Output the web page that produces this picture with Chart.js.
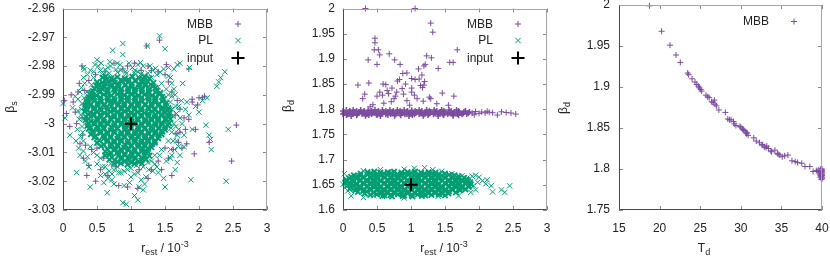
<!DOCTYPE html>
<html>
<head>
<meta charset="utf-8">
<script src="https://cdn.jsdelivr.net/npm/chart.js@4/dist/chart.umd.min.js"></script>
<style>
  html, body { margin: 0; padding: 0; background: #fff; }
  #wrap { position: relative; width: 830px; height: 261px; }
  canvas { position: absolute; top: 0; }
</style>
</head>
<body>
<div id="wrap">
  <canvas id="c1" width="277" height="261" style="left:0px"></canvas>
  <canvas id="c2" width="277" height="261" style="left:280px"></canvas>
  <canvas id="c3" width="274" height="261" style="left:556px"></canvas>
</div>
<script>
// ---- data ----
// panel 1: r_est (1e-3) vs beta_s
const p1Mbb = [
  [2.55,-3.0005],[2.48,-3.013],[1.42,-2.971],[1.23,-2.973],[1.85,-2.981],[0.02,-2.992],[0.05,-2.9965],[0.10,-3.001],
  [1.93,-3.0105],[2.00,-2.991],[2.05,-2.991],[1.90,-2.9925],[1.98,-2.9935],[2.15,-3.0065],[1.52,-2.9795],[0.28,-2.980],
  [0.24,-2.986],[0.22,-2.989],[0.15,-2.9925],[0.18,-2.996],[0.20,-3.000],[0.25,-3.007],[0.30,-3.012],[0.38,-3.0145],
  [0.42,-3.009],[0.55,-3.016],[0.60,-3.012],[0.66,-3.018],[0.82,-3.0215],[0.95,-3.022],[1.10,-3.0225],[1.12,-3.016],
  [0.78,-3.015],[1.30,-3.016],[1.40,-3.013],[1.45,-3.016],[1.50,-3.0085],[1.55,-3.012],[1.62,-3.009],[1.66,-3.0035],
  [1.70,-3.0065],[1.75,-3.0085],[1.72,-3.003],[1.80,-3.002],[1.85,-2.9985],[1.72,-2.995],[1.68,-2.992],[1.60,-2.989],
  [1.55,-2.9855],[1.50,-2.983],[1.40,-2.982],[1.30,-2.9815],[1.25,-2.980],[1.15,-2.9815],[1.05,-2.979],[0.95,-2.980],
  [0.88,-2.981],[0.75,-2.979],[0.62,-2.982],[0.48,-2.983],[0.38,-2.985],[0.32,-2.9885],[0.30,-2.9935],[0.28,-2.998],
  [0.29,-3.004],[0.33,-3.0075],[0.50,-3.0085],[0.70,-3.0105],[1.35,-3.007],[1.45,-3.003],[1.50,-2.997],[1.48,-2.991],
  [1.40,-2.988],[0.45,-2.990],[0.40,-2.9965],[0.42,-3.003],[0.90,-2.985],[1.00,-3.013],[1.20,-3.010],[0.60,-2.988],
  [1.65,-2.997],[1.78,-2.998],[1.90,-2.9915],[2.08,-2.9905],[1.95,-3.002],[1.82,-3.007],[0.12,-2.990],[0.35,-3.018],
  [0.48,-3.020],[1.60,-3.018],[1.25,-3.019],[0.70,-2.985],[1.15,-2.986],[0.80,-3.008]
];
const p1PlCore = [
  [0.71,-2.9842],[0.80,-2.9838],[0.91,-2.9843],[1.02,-2.9837],[1.12,-2.9841],
  [0.58,-2.9857],[0.67,-2.9852],[0.76,-2.9858],[0.87,-2.9853],[0.96,-2.9856],[1.06,-2.9851],[1.16,-2.9857],[1.25,-2.9854],
  [0.49,-2.9868],[0.61,-2.9873],[0.70,-2.9869],[0.82,-2.9872],[0.91,-2.9867],[1.01,-2.9871],[1.12,-2.9874],[1.21,-2.9868],[1.32,-2.9871],
  [0.44,-2.9887],[0.53,-2.9883],[0.66,-2.9886],[0.75,-2.9882],[0.85,-2.9888],[0.96,-2.9884],[1.05,-2.9886],[1.16,-2.9883],[1.26,-2.9887],[1.38,-2.9884],
  [0.40,-2.9898],[0.49,-2.9902],[0.60,-2.9899],[0.71,-2.9903],[0.80,-2.9897],[0.90,-2.9901],[1.01,-2.9898],[1.11,-2.9902],[1.20,-2.9899],[1.31,-2.9903],[1.42,-2.9898],
  [0.37,-2.9916],[0.45,-2.9912],[0.55,-2.9917],[0.66,-2.9913],[0.76,-2.9918],[0.85,-2.9914],[0.96,-2.9916],[1.06,-2.9912],[1.15,-2.9917],[1.26,-2.9913],[1.36,-2.9916],[1.48,-2.9914],
  [0.35,-2.9928],[0.41,-2.9933],[0.51,-2.9929],[0.61,-2.9932],[0.70,-2.9927],[0.81,-2.9931],[0.90,-2.9929],[1.00,-2.9933],[1.11,-2.9928],[1.21,-2.9932],[1.30,-2.9929],[1.41,-2.9931],[1.52,-2.9928],
  [0.33,-2.9947],[0.46,-2.9943],[0.55,-2.9946],[0.65,-2.9942],[0.76,-2.9948],[0.86,-2.9944],[0.95,-2.9947],[1.05,-2.9943],[1.16,-2.9946],[1.25,-2.9944],[1.35,-2.9947],[1.46,-2.9943],[1.55,-2.9946],
  [0.32,-2.9958],[0.40,-2.9962],[0.50,-2.9959],[0.61,-2.9963],[0.70,-2.9957],[0.80,-2.9961],[0.91,-2.9958],[1.00,-2.9962],[1.10,-2.9959],[1.20,-2.9963],[1.31,-2.9958],[1.40,-2.9961],[1.50,-2.9959],[1.57,-2.9962],
  [0.34,-2.9977],[0.45,-2.9973],[0.56,-2.9976],[0.65,-2.9972],[0.75,-2.9978],[0.85,-2.9974],[0.96,-2.9977],[1.05,-2.9973],[1.15,-2.9976],[1.26,-2.9974],[1.35,-2.9977],[1.45,-2.9973],[1.56,-2.9976],
  [0.33,-2.9988],[0.41,-2.9992],[0.51,-2.9989],[0.60,-2.9993],[0.71,-2.9987],[0.81,-2.9991],[0.90,-2.9988],[1.01,-2.9992],[1.10,-2.9989],[1.21,-2.9993],[1.30,-2.9988],[1.40,-2.9991],[1.51,-2.9989],
  [0.36,-3.0007],[0.46,-3.0003],[0.55,-3.0006],[0.66,-3.0002],[0.75,-3.0008],[0.86,-3.0004],[0.96,-3.0007],[1.05,-3.0003],[1.16,-3.0006],[1.25,-3.0004],[1.36,-3.0007],[1.46,-3.0003],[1.54,-3.0006],
  [0.38,-3.0018],[0.50,-3.0022],[0.60,-3.0019],[0.70,-3.0023],[0.80,-3.0017],[0.91,-3.0021],[1.00,-3.0018],[1.11,-3.0022],[1.20,-3.0019],[1.31,-3.0023],[1.41,-3.0018],[1.50,-3.0021],
  [0.41,-3.0037],[0.55,-3.0033],[0.65,-3.0036],[0.76,-3.0032],[0.85,-3.0038],[0.95,-3.0034],[1.06,-3.0037],[1.15,-3.0033],[1.26,-3.0036],[1.35,-3.0034],[1.45,-3.0037],
  [0.46,-3.0048],[0.60,-3.0052],[0.70,-3.0049],[0.80,-3.0053],[0.91,-3.0047],[1.00,-3.0051],[1.11,-3.0048],[1.20,-3.0052],[1.31,-3.0049],[1.40,-3.0051],
  [0.50,-3.0067],[0.65,-3.0063],[0.75,-3.0066],[0.86,-3.0062],[0.95,-3.0068],[1.06,-3.0064],[1.15,-3.0067],[1.25,-3.0063],[1.35,-3.0066],
  [0.56,-3.0078],[0.70,-3.0082],[0.81,-3.0079],[0.90,-3.0083],[1.01,-3.0077],[1.10,-3.0081],[1.21,-3.0078],[1.30,-3.0082],
  [0.62,-3.0097],[0.75,-3.0093],[0.86,-3.0096],[0.96,-3.0092],[1.05,-3.0098],[1.16,-3.0094],[1.25,-3.0097],
  [0.68,-3.0108],[0.81,-3.0112],[0.91,-3.0109],[1.01,-3.0113],[1.11,-3.0107],[1.20,-3.0111],
  [0.76,-3.0127],[0.86,-3.0123],[0.97,-3.0126],[1.06,-3.0122],[1.15,-3.0128],
  [0.85,-3.0138],[0.95,-3.0142],[1.05,-3.0139]
];
const p1PlFill = [
  [0.64,-2.9848],[0.75,-2.9846],[0.85,-2.9849],[0.96,-2.9847],[1.07,-2.9850],[1.18,-2.9846],
  [0.53,-2.9863],[0.63,-2.9861],[0.72,-2.9864],[0.81,-2.9862],[0.92,-2.9865],[1.01,-2.9861],[1.11,-2.9863],[1.21,-2.9862],[1.29,-2.9864],
  [0.46,-2.9878],[0.56,-2.9876],[0.65,-2.9879],[0.76,-2.9877],[0.86,-2.9880],[0.96,-2.9876],[1.06,-2.9878],[1.16,-2.9877],[1.27,-2.9879],[1.36,-2.9876],
  [0.42,-2.9893],[0.54,-2.9891],[0.65,-2.9894],[0.76,-2.9892],[0.85,-2.9895],[0.95,-2.9891],[1.06,-2.9893],[1.16,-2.9892],[1.26,-2.9894],[1.36,-2.9891],[1.43,-2.9893],
  [0.38,-2.9908],[0.44,-2.9906],[0.55,-2.9909],[0.65,-2.9907],[0.75,-2.9910],[0.86,-2.9906],[0.95,-2.9908],[1.06,-2.9907],[1.16,-2.9909],[1.25,-2.9906],[1.36,-2.9908],[1.46,-2.9907],
  [0.35,-2.9923],[0.46,-2.9921],[0.56,-2.9924],[0.66,-2.9922],[0.75,-2.9925],[0.86,-2.9921],[0.95,-2.9923],[1.05,-2.9922],[1.16,-2.9924],[1.26,-2.9921],[1.35,-2.9923],[1.46,-2.9922],
  [0.34,-2.9938],[0.40,-2.9936],[0.51,-2.9939],[0.60,-2.9937],[0.71,-2.9940],[0.81,-2.9936],[0.90,-2.9938],[1.01,-2.9937],[1.10,-2.9939],[1.21,-2.9936],[1.31,-2.9938],[1.40,-2.9937],[1.51,-2.9939],
  [0.36,-2.9953],[0.45,-2.9951],[0.56,-2.9954],[0.65,-2.9952],[0.75,-2.9955],[0.86,-2.9951],[0.96,-2.9953],[1.05,-2.9952],[1.15,-2.9954],[1.26,-2.9951],[1.35,-2.9953],[1.45,-2.9952],[1.54,-2.9954],
  [0.37,-2.9968],[0.45,-2.9966],[0.55,-2.9969],[0.66,-2.9967],[0.75,-2.9970],[0.85,-2.9966],[0.96,-2.9968],[1.05,-2.9967],[1.15,-2.9969],[1.25,-2.9966],[1.36,-2.9968],[1.45,-2.9967],[1.55,-2.9969],
  [0.38,-2.9983],[0.50,-2.9981],[0.60,-2.9984],[0.70,-2.9982],[0.80,-2.9985],[0.91,-2.9981],[1.00,-2.9983],[1.10,-2.9982],[1.21,-2.9984],[1.30,-2.9981],[1.40,-2.9983],[1.51,-2.9982],[1.58,-2.9984],
  [0.37,-2.9998],[0.46,-2.9996],[0.56,-2.9999],[0.65,-2.9997],[0.76,-3.0000],[0.86,-2.9996],[0.95,-2.9998],[1.06,-2.9997],[1.15,-2.9999],[1.26,-2.9996],[1.35,-2.9998],[1.45,-2.9997],[1.56,-2.9999],
  [0.41,-3.0013],[0.51,-3.0011],[0.60,-3.0014],[0.71,-3.0012],[0.80,-3.0015],[0.91,-3.0011],[1.00,-3.0013],[1.10,-3.0012],[1.21,-3.0014],[1.30,-3.0011],[1.41,-3.0013],[1.50,-3.0012],
  [0.44,-3.0028],[0.55,-3.0026],[0.65,-3.0029],[0.75,-3.0027],[0.86,-3.0030],[0.95,-3.0026],[1.06,-3.0028],[1.15,-3.0027],[1.25,-3.0029],[1.36,-3.0026],[1.46,-3.0028],
  [0.48,-3.0043],[0.60,-3.0041],[0.70,-3.0044],[0.81,-3.0042],[0.90,-3.0045],[1.01,-3.0041],[1.10,-3.0043],[1.21,-3.0042],[1.30,-3.0044],[1.41,-3.0041],
  [0.53,-3.0058],[0.65,-3.0056],[0.75,-3.0059],[0.85,-3.0057],[0.96,-3.0060],[1.05,-3.0056],[1.16,-3.0058],[1.25,-3.0057],[1.35,-3.0059],
  [0.60,-3.0073],[0.71,-3.0071],[0.80,-3.0074],[0.91,-3.0072],[1.00,-3.0075],[1.11,-3.0071],[1.20,-3.0073],[1.30,-3.0072],
  [0.65,-3.0088],[0.76,-3.0086],[0.85,-3.0089],[0.96,-3.0087],[1.05,-3.0090],[1.16,-3.0086],[1.25,-3.0088],
  [0.70,-3.0103],[0.80,-3.0101],[0.91,-3.0104],[1.00,-3.0102],[1.11,-3.0105],[1.20,-3.0101],
  [0.72,-3.0118],[0.86,-3.0116],[0.95,-3.0119],[1.06,-3.0117],[1.16,-3.0120],
  [0.80,-3.0133],[0.91,-3.0131],[1.01,-3.0134],[1.11,-3.0132],
  [0.58,-2.9840],[0.63,-2.9836],[1.20,-2.9838],[1.27,-2.9843],[0.50,-2.9856],[1.33,-2.9858],[0.62,-3.0110],[1.27,-3.0112],
  [0.68,-3.0125],[1.22,-3.0124],[0.75,-3.0140],[1.16,-3.0138]
];
const p1PlEdge = [
  [0.30,-2.9805],[0.31,-2.9812],[0.50,-2.9778],[0.52,-2.9800],[0.62,-2.9812],[0.73,-2.9745],[0.80,-2.9790],[0.88,-2.9722],
  [0.88,-2.9760],[0.92,-2.9820],[1.02,-2.9805],[1.10,-2.9795],[1.18,-2.9800],[1.20,-2.9832],[1.24,-2.9730],[1.32,-2.9815],
  [1.42,-2.9695],[1.50,-2.9740],[1.48,-2.9810],[1.55,-2.9805],[1.63,-2.9810],[1.68,-2.9795],[1.72,-2.9790],[1.86,-2.9805],
  [0.00,-2.9930],[0.03,-2.9980],[0.10,-3.0040],[0.18,-2.9905],[0.22,-2.9955],[0.20,-3.0170],[0.23,-3.0085],[0.25,-3.0110],
  [0.28,-3.0010],[0.14,-2.9945],[0.27,-2.9875],[0.30,-2.9840],[0.38,-3.0150],[0.40,-3.0220],[0.36,-3.0115],[0.42,-2.9865],
  [0.45,-2.9840],[0.50,-3.0140],[0.55,-3.0180],[0.60,-3.0205],[0.65,-3.0240],[0.66,-3.0190],[0.72,-3.0175],[0.75,-3.0210],
  [0.82,-3.0170],[0.88,-3.0275],[0.93,-3.0280],[0.90,-3.0215],[0.98,-3.0205],[1.05,-3.0250],[1.10,-3.0265],[1.18,-3.0230],
  [1.20,-3.0210],[1.22,-3.0185],[1.26,-3.0160],[1.35,-3.0140],[1.40,-3.0170],[1.48,-3.0190],[1.50,-3.0220],[1.58,-3.0120],
  [1.65,-3.0160],[1.68,-3.0135],[1.72,-3.0110],[1.88,-3.0195],[1.60,-2.9860],[1.65,-2.9900],[1.70,-2.9940],[1.75,-3.0000],
  [1.78,-3.0040],[1.82,-2.9925],[1.85,-2.9970],[1.90,-3.0020],[1.95,-2.9940],[2.00,-2.9960],[2.05,-2.9920],[2.12,-2.9910],
  [2.15,-3.0040],[2.17,-3.0055],[2.18,-3.0090],[2.10,-3.0005],[1.62,-3.0060],[1.66,-3.0010],[1.70,-3.0080],[1.60,-2.9950],
  [1.63,-3.0000],[1.58,-3.0090],[2.26,-2.9870],[2.29,-2.9855],[2.32,-2.9840],[2.38,-2.9820],[2.43,-3.0020],[2.40,-3.0200],
  [0.45,-2.9820],[1.30,-2.9840],[1.45,-2.9860],[1.55,-2.9900],[1.60,-3.0030],[0.30,-3.0060],[0.28,-2.9930],[0.50,-3.0110],
  [1.35,-3.0110],[1.45,-3.0090],[1.10,-3.0170],[1.15,-3.0195],[0.85,-3.0170],[0.70,-3.0140],[0.58,-2.9830],[1.38,-2.9830],
  [1.52,-3.0130],[0.62,-3.0150],[0.35,-2.9890],[0.26,-2.9970],[1.58,-2.9925],[1.62,-2.9975],[1.66,-2.9940],[1.68,-3.0040],
  [1.72,-2.9980],[1.55,-3.0060],[1.52,-2.9880],[1.58,-2.9840],[0.27,-2.9950],[0.29,-3.0030],[0.31,-2.9910],[0.40,-3.0080],
  [0.45,-3.0100],[0.55,-3.0120],[1.30,-3.0130],[1.42,-3.0110],[0.95,-3.0160],[1.05,-3.0175],[0.75,-3.0160],[1.25,-2.9825],
  [0.55,-2.9815],[0.85,-2.9815],[1.10,-2.9820],[0.70,-2.9800],
  [0.40,-2.9815],[0.47,-2.9795],[0.56,-2.9790],[0.66,-2.9805],[0.69,-2.9785],[0.78,-2.9812],[0.84,-2.9795],[0.97,-2.9790],
  [1.06,-2.9815],[1.14,-2.9788],[1.28,-2.9800],[1.36,-2.9808],[1.43,-2.9822],[0.36,-2.9830],[0.68,-2.9825],[0.80,-2.9822],
  [0.93,-2.9826],[1.05,-2.9823],[1.15,-2.9827],
  [0.22,-2.9915],[0.24,-2.9985],[0.26,-3.0045],[0.21,-3.0020],[0.30,-3.0095],[0.33,-3.0130],[0.25,-2.9890],[0.32,-2.9860],
  [0.19,-3.0060],[1.60,-2.9905],[1.63,-2.9880],[1.67,-2.9965],[1.70,-3.0020],[1.74,-2.9920],[1.76,-2.9860],[1.64,-3.0090],
  [1.60,-3.0110],[1.67,-3.0060],[1.78,-3.0080],[1.80,-2.9950],[1.57,-2.9950],[1.59,-3.0015],[1.55,-2.9835],
  [0.58,-3.0150],[0.68,-3.0165],[0.80,-3.0150],[0.90,-3.0165],[1.00,-3.0155],[1.08,-3.0145],[1.18,-3.0150],[1.25,-3.0135],
  [1.32,-3.0165],[0.72,-3.0195],[1.00,-3.0185],[1.12,-3.0220],[0.62,-3.0175],[1.38,-3.0150]
];
const p1Input = [[1, -3]];

// panel 2: r_est (1e-3) vs beta_d
const p2MbbBand = [
  [0.00,1.7908],[0.07,1.7902],[0.14,1.7906],[0.21,1.7901],[0.28,1.7907],[0.35,1.7903],[0.42,1.7905],[0.49,1.7900],
  [0.56,1.7906],[0.63,1.7902],[0.70,1.7907],[0.77,1.7903],[0.84,1.7905],[0.91,1.7901],[0.98,1.7906],[1.05,1.7902],
  [1.12,1.7907],[1.19,1.7903],[1.26,1.7905],[1.33,1.7901],[1.40,1.7906],[1.47,1.7902],[1.54,1.7907],[1.61,1.7903],
  [1.68,1.7905],[1.75,1.7901],[1.82,1.7906],
  [0.03,1.7943],[0.10,1.7948],[0.17,1.7944],[0.24,1.7947],[0.31,1.7942],[0.38,1.7946],[0.45,1.7944],[0.52,1.7948],
  [0.59,1.7943],[0.66,1.7947],[0.73,1.7942],[0.80,1.7946],[0.87,1.7944],[0.94,1.7948],[1.01,1.7943],[1.08,1.7947],
  [1.15,1.7942],[1.22,1.7946],[1.29,1.7944],[1.36,1.7948],[1.43,1.7943],[1.50,1.7947],[1.57,1.7942],[1.64,1.7946],
  [1.71,1.7944],[1.78,1.7948],[1.86,1.7943],
  [0.05,1.7987],[0.15,1.7983],[0.26,1.7986],[0.37,1.7982],[0.47,1.7988],[0.58,1.7984],[0.69,1.7987],[0.80,1.7983],
  [0.90,1.7986],[1.01,1.7982],[1.12,1.7987],[1.23,1.7984],[1.34,1.7986],[1.45,1.7983],[1.56,1.7987],[1.67,1.7984],
  [0.12,1.7868],[0.33,1.7872],[0.55,1.7866],[0.76,1.7871],[0.97,1.7867],[1.18,1.7873],[1.40,1.7868],[1.62,1.7872],
  [0.02,1.7925],[0.09,1.7923],[0.16,1.7926],[0.23,1.7924],[0.30,1.7927],[0.37,1.7923],[0.44,1.7925],[0.51,1.7924],
  [0.58,1.7926],[0.65,1.7923],[0.72,1.7925],[0.79,1.7924],[0.86,1.7926],[0.93,1.7923],[1.00,1.7925],[1.07,1.7924],
  [1.14,1.7926],[1.21,1.7923],[1.28,1.7925],[1.35,1.7924],[1.42,1.7926],[1.49,1.7923],[1.56,1.7925],[1.63,1.7924],
  [1.70,1.7926],[1.77,1.7923],[1.84,1.7925],
  [0.00,1.7965],[0.10,1.7963],[0.20,1.7966],[0.31,1.7964],[0.42,1.7967],[0.52,1.7963],[0.63,1.7965],[0.74,1.7964],
  [0.84,1.7966],[0.95,1.7963],[1.06,1.7965],[1.16,1.7964],[1.27,1.7966],[1.38,1.7963],[1.48,1.7965],[1.59,1.7964],
  [1.70,1.7966],[1.80,1.7963],
  [0.05,1.7885],[0.20,1.7883],[0.38,1.7886],[0.50,1.7884],[0.66,1.7887],[0.85,1.7883],[1.02,1.7885],[1.25,1.7884],
  [1.48,1.7886],[1.70,1.7883]
];
const p2MbbSpread = [
  [1.90,1.7925],[1.95,1.7955],[2.00,1.7918],[2.04,1.7945],[2.09,1.7928],[2.15,1.7940],[2.20,1.7930],[2.27,1.7885],
  [2.33,1.7950],[2.40,1.7935],[2.47,1.7925],[2.54,1.7905],[1.93,1.7890],[2.12,1.7960],
  [0.33,2.000],[1.06,2.000],[1.29,1.971],[1.32,1.953],[0.47,1.941],[0.47,1.932],[0.46,1.918],[0.52,1.918],
  [0.37,1.898],[0.50,1.889],[0.54,1.908],[0.68,1.910],[0.76,1.898],[0.84,1.889],[0.22,1.848],[0.38,1.852],
  [0.32,1.830],[0.44,1.809],[0.50,1.826],[0.59,1.850],[0.63,1.849],[0.65,1.837],[0.67,1.831],[0.54,1.834],
  [0.71,1.815],[0.75,1.821],[0.77,1.826],[0.79,1.834],[0.80,1.856],[0.83,1.859],[0.88,1.871],[0.94,1.872],
  [0.92,1.850],[0.87,1.841],[0.89,1.830],[0.94,1.817],[1.01,1.834],[0.98,1.808],[1.01,1.842],[1.06,1.859],
  [1.01,1.861],[1.11,1.880],[1.16,1.868],[1.14,1.847],[1.19,1.848],[1.20,1.855],[1.19,1.886],[1.21,1.889],
  [1.23,1.906],[1.30,1.902],[1.40,1.881],[1.09,1.821],[1.18,1.816],[1.27,1.824],[1.29,1.821],[1.38,1.811],
  [1.46,1.832],[1.63,1.826],[1.57,1.893],[1.62,1.893],[1.68,1.918],[0.29,1.821],[0.60,1.812],[0.72,1.842],
  [1.05,1.828],[1.12,1.860],[1.17,1.843],[0.40,1.805],[1.55,1.808],[0.58,1.828]
];
const p2PlCore = [
  [0.36,1.675],[0.46,1.676],[0.55,1.674],[0.66,1.675],[0.75,1.676],[0.86,1.674],[0.95,1.675],[1.06,1.676],[1.15,1.674],[1.26,1.675],[1.36,1.674],
  [0.16,1.669],[0.25,1.668],[0.36,1.670],[0.45,1.669],[0.56,1.668],[0.65,1.670],[0.76,1.669],[0.85,1.668],[0.96,1.670],[1.05,1.669],[1.16,1.668],[1.25,1.670],[1.36,1.669],[1.45,1.668],[1.56,1.670],[1.64,1.669],
  [0.09,1.663],[0.20,1.662],[0.30,1.664],[0.41,1.663],[0.50,1.662],[0.61,1.664],[0.70,1.663],[0.81,1.662],[0.90,1.664],[1.01,1.663],[1.10,1.662],[1.21,1.664],[1.30,1.663],[1.41,1.662],[1.50,1.664],[1.61,1.663],[1.70,1.662],[1.78,1.664],
  [0.05,1.657],[0.15,1.656],[0.25,1.658],[0.35,1.657],[0.46,1.656],[0.55,1.658],[0.66,1.657],[0.75,1.656],[0.86,1.658],[0.95,1.657],[1.06,1.656],[1.15,1.658],[1.26,1.657],[1.35,1.656],[1.46,1.658],[1.55,1.657],[1.66,1.656],[1.75,1.658],[1.84,1.657],
  [0.10,1.651],[0.20,1.650],[0.31,1.652],[0.40,1.651],[0.51,1.650],[0.60,1.652],[0.71,1.651],[0.80,1.650],[0.91,1.652],[1.00,1.651],[1.11,1.650],[1.20,1.652],[1.31,1.651],[1.40,1.650],[1.51,1.652],[1.60,1.651],[1.71,1.650],[1.80,1.652],[1.88,1.651],
  [0.12,1.645],[0.25,1.644],[0.35,1.646],[0.46,1.645],[0.55,1.644],[0.66,1.646],[0.75,1.645],[0.86,1.644],[0.95,1.646],[1.06,1.645],[1.15,1.644],[1.26,1.646],[1.35,1.645],[1.46,1.644],[1.55,1.646],[1.66,1.645],[1.75,1.644],[1.85,1.646],
  [0.18,1.639],[0.30,1.638],[0.41,1.640],[0.50,1.639],[0.61,1.638],[0.70,1.640],[0.81,1.639],[0.90,1.638],[1.01,1.640],[1.10,1.639],[1.21,1.638],[1.30,1.640],[1.41,1.639],[1.50,1.638],[1.61,1.640],[1.72,1.639],
  [0.32,1.633],[0.45,1.634],[0.55,1.632],[0.66,1.633],[0.75,1.634],[0.86,1.632],[0.95,1.633],[1.06,1.634],[1.15,1.632],[1.26,1.633],[1.35,1.634],[1.46,1.632],[1.55,1.633],
  [0.58,1.628],[0.72,1.627],[0.88,1.628],[1.02,1.627],[1.16,1.628]
];
const p2PlFill = [
  [0.26,1.672],[0.41,1.673],[0.51,1.671],[0.60,1.672],[0.71,1.673],[0.80,1.671],[0.91,1.672],[1.00,1.673],[1.11,1.671],[1.20,1.672],[1.31,1.673],[1.41,1.671],[1.50,1.672],
  [0.12,1.666],[0.21,1.667],[0.30,1.665],[0.41,1.666],[0.50,1.667],[0.61,1.665],[0.70,1.666],[0.81,1.667],[0.90,1.665],[1.01,1.666],[1.10,1.667],[1.21,1.665],[1.30,1.666],[1.41,1.667],[1.50,1.665],[1.61,1.666],[1.70,1.667],
  [0.05,1.660],[0.14,1.661],[0.25,1.659],[0.35,1.660],[0.46,1.661],[0.55,1.659],[0.66,1.660],[0.75,1.661],[0.86,1.659],[0.95,1.660],[1.06,1.661],[1.15,1.659],[1.26,1.660],[1.35,1.661],[1.46,1.659],[1.55,1.660],[1.66,1.661],[1.75,1.659],[1.82,1.660],
  [0.03,1.654],[0.10,1.655],[0.20,1.653],[0.30,1.654],[0.41,1.655],[0.50,1.653],[0.61,1.654],[0.70,1.655],[0.81,1.653],[0.90,1.654],[1.01,1.655],[1.10,1.653],[1.21,1.654],[1.30,1.655],[1.41,1.653],[1.50,1.654],[1.61,1.655],[1.70,1.653],[1.80,1.654],[1.87,1.655],
  [0.06,1.648],[0.15,1.649],[0.25,1.647],[0.36,1.648],[0.45,1.649],[0.56,1.647],[0.65,1.648],[0.76,1.649],[0.85,1.647],[0.96,1.648],[1.05,1.649],[1.16,1.647],[1.25,1.648],[1.36,1.649],[1.45,1.647],[1.56,1.648],[1.65,1.649],[1.76,1.647],[1.85,1.648],
  [0.10,1.642],[0.20,1.643],[0.31,1.641],[0.40,1.642],[0.51,1.643],[0.60,1.641],[0.71,1.642],[0.80,1.643],[0.91,1.641],[1.00,1.642],[1.11,1.643],[1.20,1.641],[1.31,1.642],[1.40,1.643],[1.51,1.641],[1.60,1.642],[1.71,1.643],[1.80,1.641],
  [0.22,1.636],[0.35,1.637],[0.45,1.635],[0.56,1.636],[0.65,1.637],[0.76,1.635],[0.85,1.636],[0.96,1.637],[1.05,1.635],[1.16,1.636],[1.25,1.637],[1.36,1.635],[1.45,1.636],[1.56,1.637],[1.66,1.635],
  [0.40,1.630],[0.50,1.631],[0.61,1.629],[0.70,1.630],[0.81,1.631],[0.90,1.629],[1.01,1.630],[1.10,1.631],[1.21,1.629],[1.30,1.630],[1.41,1.631],[1.50,1.629]
];
const p2PlEdge = [
  [0.00,1.651],[0.02,1.672],[0.12,1.628],[0.07,1.638],[0.30,1.678],[0.55,1.680],[0.90,1.681],[1.05,1.683],
  [1.20,1.684],[1.32,1.680],[1.45,1.677],[1.60,1.672],[1.75,1.668],[1.82,1.663],[1.90,1.667],[1.95,1.669],
  [2.00,1.665],[2.05,1.658],[2.10,1.652],[2.18,1.648],[2.20,1.636],[1.95,1.640],[1.88,1.635],[2.33,1.640],
  [2.38,1.635],[2.45,1.648],[1.70,1.628],[1.40,1.627],[0.30,1.625],[0.90,1.624],[0.45,1.628],[1.98,1.655],
  [1.92,1.648],[2.12,1.660]
];
const p2Input = [[1, 1.65]];

// panel 3: T_d vs beta_d
const p3Mbb = [
  [18.75,1.999],[20.25,1.968],[21.28,1.951],[22.02,1.939],[22.55,1.930],[23.46,1.917],[23.58,1.915],[24.0,1.910],
  [24.36,1.906],[24.57,1.903],[24.77,1.901],[24.9,1.899],[25.06,1.897],[25.18,1.895],[25.71,1.890],[25.92,1.888],
  [26.1,1.887],[26.41,1.882],[26.6,1.881],[26.74,1.884],[26.82,1.879],[27.0,1.877],[27.3,1.872],[28.1,1.869],
  [28.4,1.861],[28.6,1.860],[28.8,1.860],[29.1,1.858],[29.2,1.855],[29.4,1.853],[29.9,1.852],[30.0,1.851],
  [30.2,1.849],[30.3,1.848],[30.4,1.847],[30.6,1.845],[30.7,1.843],[30.8,1.844],[30.9,1.841],[31.6,1.838],
  [31.9,1.834],[32.3,1.832],[32.6,1.830],[32.7,1.829],[32.9,1.827],[33.1,1.826],[33.2,1.828],[33.4,1.825],
  [33.7,1.822],[33.8,1.821],[34.2,1.823],[34.5,1.819],[34.6,1.818],[34.8,1.817],[35.1,1.815],[35.4,1.816],
  [35.8,1.817],[36.3,1.810],[36.7,1.809],[37.0,1.808],[37.5,1.807],[37.9,1.803],[38.5,1.803],[38.9,1.797],
  [39.3,1.798],[39.5,1.797],[39.6,1.799],[39.7,1.796],[39.75,1.793],[39.8,1.798],[39.85,1.795],[39.9,1.791],
  [39.9,1.799],[39.95,1.797],[39.95,1.793],[39.95,1.789],[40,1.800],[40,1.798],[40,1.796],[40,1.794],
  [40,1.792],[40,1.790],[40,1.788],[39.85,1.800],[39.92,1.787],[39.8,1.790],[39.85,1.792],[39.75,1.797]
];

// axis ranges [min, max, step]
const rAxis = [0, 3, 0.5];
const betaSAxis = [-3.03, -2.96, 0.01];
const betaDAxis = [1.6, 2, 0.05];
const tdAxis = [15, 40, 5];
const betaD3Axis = [1.75, 2, 0.05];

// ---- styling ----
const PURPLE = '#7d4ca0';
const GREEN = '#009e73';
const FONT = "'Liberation Sans', Arial, sans-serif";
const TEXT = '#222';

const fmt = v => String(parseFloat(Number(v).toFixed(4)));

function richText(ctx, parts, cx, cy, rotate) {
  const fontOf = k => (k ? 9 : 12) + 'px ' + FONT;
  ctx.save();
  ctx.translate(cx, cy);
  if (rotate) ctx.rotate(-Math.PI / 2);
  let w = 0;
  parts.forEach(([t, k]) => { ctx.font = fontOf(k); w += ctx.measureText(t).width; });
  let x = -w / 2;
  ctx.textAlign = 'left';
  ctx.textBaseline = 'alphabetic';
  ctx.fillStyle = TEXT;
  parts.forEach(([t, k]) => {
    ctx.font = fontOf(k);
    const dy = k === 'sub' ? 3 : k === 'sup' ? -5 : 0;
    ctx.fillText(t, x, 4 + dy);
    x += ctx.measureText(t).width;
  });
  ctx.restore();
}

function marker(ctx, kind, x, y) {
  ctx.beginPath();
  if (kind === 'mbb') {
    ctx.strokeStyle = PURPLE; ctx.lineWidth = 1;
    ctx.moveTo(x - 3, y); ctx.lineTo(x + 3, y); ctx.moveTo(x, y - 3); ctx.lineTo(x, y + 3);
  } else if (kind === 'pl') {
    ctx.strokeStyle = GREEN; ctx.lineWidth = 1;
    ctx.moveTo(x - 2.7, y - 2.7); ctx.lineTo(x + 2.7, y + 2.7); ctx.moveTo(x - 2.7, y + 2.7); ctx.lineTo(x + 2.7, y - 2.7);
  } else {
    ctx.strokeStyle = '#000'; ctx.lineWidth = 2;
    ctx.moveTo(x - 6.5, y); ctx.lineTo(x + 6.5, y); ctx.moveTo(x, y - 6.5); ctx.lineTo(x, y + 6.5);
  }
  ctx.stroke();
}

// gnuplot-like frame: inward ticks on all sides, border, axis titles, legend
const gnuFrame = {
  id: 'gnuFrame',
  afterDraw(chart, args, o) {
    const { ctx, chartArea: a, scales: { x, y } } = chart;
    ctx.save();
    ctx.strokeStyle = '#8c8c8c';
    ctx.lineWidth = 1;
    ctx.beginPath();
    x.ticks.forEach(t => {
      const p = Math.round(x.getPixelForValue(t.value)) + 0.5;
      ctx.moveTo(p, a.bottom); ctx.lineTo(p, a.bottom - 4);
      ctx.moveTo(p, a.top); ctx.lineTo(p, a.top + 4);
    });
    y.ticks.forEach(t => {
      const p = Math.round(y.getPixelForValue(t.value)) + 0.5;
      ctx.moveTo(a.left, p); ctx.lineTo(a.left + 4, p);
      ctx.moveTo(a.right, p); ctx.lineTo(a.right - 4, p);
    });
    ctx.stroke();

    const L = Math.round(a.left) + 0.5, R = Math.round(a.right) - 0.5;
    const T = Math.round(a.top) + 0.5, B = Math.round(a.bottom) - 0.5;
    ctx.strokeStyle = '#a6a6a6';
    ctx.beginPath();
    ctx.moveTo(L, T); ctx.lineTo(R, T); ctx.lineTo(R, B);
    ctx.stroke();
    ctx.strokeStyle = '#4a4a4a';
    ctx.beginPath();
    ctx.moveTo(L, T); ctx.lineTo(L, B); ctx.lineTo(R, B);
    ctx.stroke();

    richText(ctx, o.xTitle, o.xTitleX, 248, false);
    richText(ctx, o.yTitle, o.yTitleX, o.yTitleY, true);

    ctx.font = '12px ' + FONT;
    ctx.fillStyle = TEXT;
    ctx.textAlign = 'right';
    ctx.textBaseline = 'middle';
    o.legend.forEach((item, i) => {
      const ly = a.top + o.legendY[i];
      ctx.fillText(item.label, a.left + 150, ly + 0.5);
      marker(ctx, item.kind, a.left + 175, ly);
    });
    ctx.restore();
  }
};

// dense clumps get a heavier stroke so overlapping marks merge like in the original
function pointSet(label, data, kind, weight) {
  const base = { label, data, clip: false, showLine: false, pointBorderWidth: weight || 1 };
  if (kind === 'mbb') return Object.assign(base, { order: 4, pointStyle: 'cross', pointRadius: 3, pointBorderColor: PURPLE, pointBackgroundColor: PURPLE });
  if (kind === 'pl') return Object.assign(base, { order: 2, pointStyle: 'crossRot', pointRadius: 3.8, pointBorderColor: GREEN, pointBackgroundColor: GREEN });
  return Object.assign(base, { order: 1, pointStyle: 'cross', pointRadius: 6.5, pointBorderWidth: 2, pointBorderColor: '#000', pointBackgroundColor: '#000' });
}

function makePanel(id, sets, xr, yr, frame, padRight, yPad) {
  const tickFont = { family: FONT, size: 12 };
  return new Chart(document.getElementById(id), {
    type: 'scatter',
    data: { datasets: sets },
    options: {
      responsive: false,
      animation: false,
      events: [],
      layout: { padding: { top: 5, right: padRight, left: 0, bottom: 0 } },
      plugins: { legend: { display: false }, tooltip: { enabled: false }, gnuFrame: frame },
      scales: {
        x: {
          type: 'linear', min: xr[0], max: xr[1],
          ticks: { stepSize: xr[2], autoSkip: false, maxRotation: 0, padding: 11, color: TEXT, font: tickFont, callback: fmt },
          grid: { display: false, drawTicks: false }, border: { display: false },
          afterFit(s) { s.height = 51; s.paddingLeft = 0; s.paddingRight = 0; }
        },
        y: {
          type: 'linear', min: yr[0], max: yr[1],
          ticks: { stepSize: yr[2], autoSkip: false, padding: yPad, color: TEXT, font: tickFont, callback: fmt },
          grid: { display: false, drawTicks: false }, border: { display: false },
          afterFit(s) { s.width = 63; s.paddingTop = 0; s.paddingBottom = 0; }
        }
      }
    },
    plugins: [gnuFrame]
  });
}

const rTitle = [['r', ''], ['est', 'sub'], [' / 10', ''], ['-3', 'sup']];
const fullLegend = [{ label: 'MBB', kind: 'mbb' }, { label: 'PL', kind: 'pl' }, { label: 'input', kind: 'input' }];

makePanel('c1', [
  pointSet('MBB', p1Mbb, 'mbb'),
  pointSet('PL', p1PlEdge, 'pl'),
  Object.assign(pointSet('PL', p1PlCore.concat(p1PlFill), 'pl', 1.9), { order: 3 }),
  pointSet('input', p1Input, 'input')
], rAxis, betaSAxis, {
  xTitle: rTitle, xTitleX: 165, yTitle: [['β', ''], ['s', 'sub']], yTitleX: 10, yTitleY: 107,
  legend: fullLegend, legendY: [15.5, 32, 49.5]
}, 10, 8);

makePanel('c2', [
  pointSet('MBB', p2MbbSpread, 'mbb'),
  Object.assign(pointSet('MBB', p2MbbBand, 'mbb', 1.5), { order: 5 }),
  pointSet('PL', p2PlEdge, 'pl'),
  Object.assign(pointSet('PL', p2PlCore.concat(p2PlFill), 'pl', 1.9), { order: 3 }),
  pointSet('input', p2Input, 'input')
], rAxis, betaDAxis, {
  xTitle: rTitle, xTitleX: 164, yTitle: [['β', ''], ['d', 'sub']], yTitleX: 7, yTitleY: 106,
  legend: fullLegend, legendY: [15.5, 32, 49.5]
}, 10, 8);

makePanel('c3', [
  pointSet('MBB', p3Mbb, 'mbb')
], tdAxis, betaD3Axis, {
  xTitle: [['T', ''], ['d', 'sub']], xTitleX: 148, yTitle: [['β', ''], ['d', 'sub']], yTitleX: 7, yTitleY: 108,
  legend: [{ label: 'MBB', kind: 'mbb' }], legendY: [16.5]
}, 8, 9);
</script>
</body>
</html>
